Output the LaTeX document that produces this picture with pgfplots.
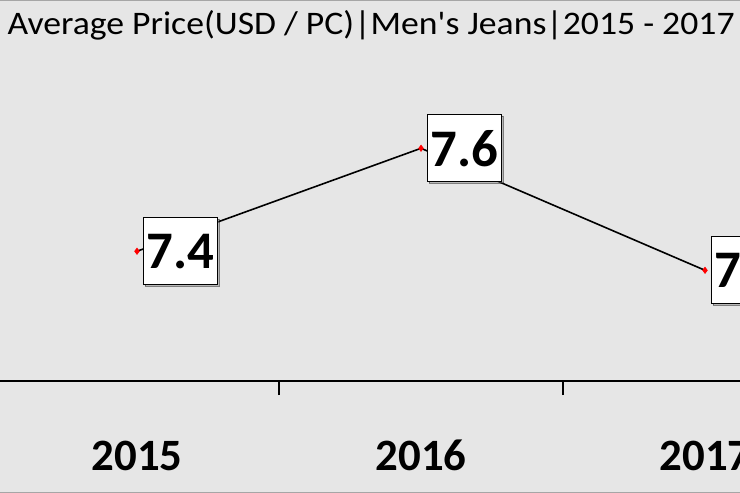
\documentclass[border=0pt]{standalone}
\usepackage{pgfplots}
\pgfplotsset{compat=1.18}
\usepackage{fontspec}
\setmainfont{Carlito}
\usetikzlibrary{shadows}
\definecolor{bg}{RGB}{230,230,230}
\begin{document}
\begin{tikzpicture}
\useasboundingbox (0bp,0bp) rectangle (740bp,493bp);
\clip (0bp,0bp) rectangle (740bp,493bp);
\fill[bg] (0bp,0bp) rectangle (740bp,493bp);
\draw[gray!70, line width=0.8bp] (0bp,0.4bp) -- (740bp,0.4bp);
\draw[gray!70, line width=0.8bp] (0bp,492.6bp) -- (740bp,492.6bp);
\node[anchor=base, font=\fontsize{33}{33}\selectfont, inner sep=0, xscale=1.085] at (371bp,458bp) {Average Price(USD / PC)|Men\textquotesingle s Jeans|2015 - 2017};
\begin{axis}[
  at={(-5bp,112bp)}, anchor=south west,
  scale only axis, width=852bp, height=381bp,
  xmin=-0.5, xmax=2.5, ymin=7.148, ymax=7.888,
  axis x line=bottom, axis y line=none,
  x axis line style={-, line width=1.5bp, black},
  xtick={0,1,2},
  xticklabels={\textbf{2015},\textbf{2016},\textbf{2017}},
  major tick length=0pt,
  xticklabel style={anchor=base, yshift=-89bp, inner sep=0pt, font=\fontsize{45}{45}\selectfont},
  extra x ticks={0.5,1.5},
  extra x tick labels={,},
  extra x tick style={major tick length=14bp, tick align=outside, tick style={line width=1.5bp, black}},
  clip=false,
  nodes near coords,
  point meta=explicit symbolic,
  every node near coord/.append style={anchor=west, xshift=6bp, draw=black, fill=white, line width=1.3bp,
     drop shadow={shadow xshift=1.5bp, shadow yshift=-1.5bp, opacity=0.45},
     minimum width=74bp, minimum height=67bp, inner sep=0pt,
     font=\fontsize{53}{53}\selectfont\bfseries},
]
\addplot[black, line width=1.6bp, mark=diamond*, mark size=3.2bp, mark options={fill=red, draw=red, line width=0.5bp}]
  coordinates {(0,7.40) [7.4] (1,7.60) [7.6] (2,7.363) [7.4]};
\end{axis}
\end{tikzpicture}
\end{document}
